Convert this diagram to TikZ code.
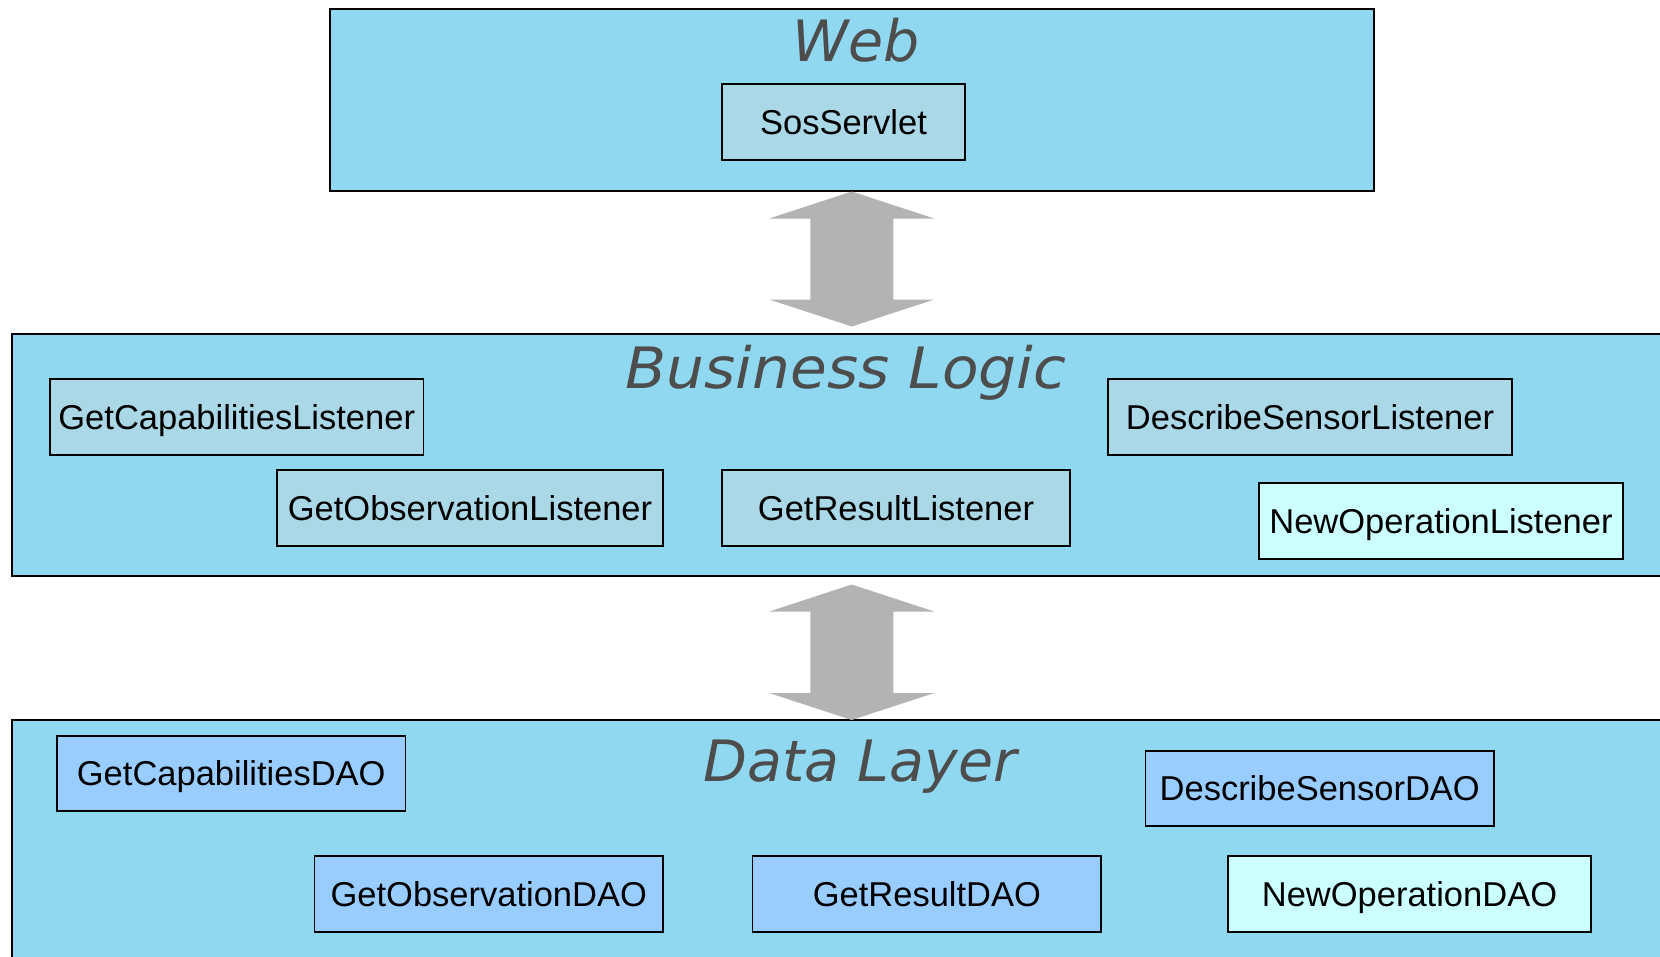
\documentclass[tikz,border=0pt]{standalone}
\usepackage{fontspec}
\setmainfont{Liberation Sans}
\newfontfamily\titlefont{DejaVu Sans}
\usetikzlibrary{calc}
\definecolor{layerfill}{RGB}{143,216,240}
\definecolor{lstfill}{RGB}{170,216,230}
\definecolor{daofill}{RGB}{153,204,255}
\definecolor{newfill}{RGB}{204,255,255}
\definecolor{arrowgray}{RGB}{179,179,179}
\definecolor{titlegray}{RGB}{77,77,77}
\tikzset{
  layer/.style={draw=black, line width=2pt, fill=layerfill, inner sep=0pt},
  lst/.style={draw=black, line width=1.5pt, fill=lstfill, inner sep=0pt, minimum height=76pt,
    text height=24.7pt, text depth=0pt,
    font=\fontsize{34.5}{40}\selectfont},
  dao/.style={lst, fill=daofill},
  newop/.style={lst, fill=newfill},
  ltitle/.style={anchor=base, text=titlegray, inner sep=0pt,
    font=\titlefont\itshape\fontsize{57}{60}\selectfont},
  blockarrow/.style={fill=arrowgray, draw=none}
}
\begin{document}
\begin{tikzpicture}[x=1pt,y=-1pt]
\clip (0,0) rectangle (1660,956);
\fill[white] (0,0) rectangle (1660,956);
% layers
\node[layer, minimum width=1044.5pt, minimum height=182pt] (web) at (851.75,99.5) {};
\node[layer, minimum width=1700pt, minimum height=242pt] (bl) at (861.6,455) {};
\node[layer, minimum width=1700pt, minimum height=300pt] (dl) at (861.6,870) {};
% titles
\node[ltitle] (webt) at (856,61) {Web};
\node[ltitle] (blt) at (846,388) {\scalebox{1.05}[1]{Business Logic}};
\node[ltitle] (dlt) at (860,781) {Data Layer};
% web
\node[lst, minimum width=243pt] (sos) at (843.5,122) {SosServlet};
% business logic
\node[lst, minimum width=373.5pt] (capL) at (236.75,417) {GetCapabilitiesListener};
\node[lst, minimum width=386pt] (obsL) at (470,508) {GetObservationListener};
\node[lst, minimum width=348pt] (resL) at (896,508) {GetResultListener};
\node[lst, minimum width=404pt] (descL) at (1310,417) {DescribeSensorListener};
\node[newop, minimum width=364pt] (newL) at (1441,521) {NewOperationListener};
% data layer
\node[dao, minimum width=348.5pt, minimum height=75pt] (capD) at (231.25,773.5) {GetCapabilitiesDAO};
\node[dao, minimum width=348.5pt, minimum height=75pt] (descD) at (1319.75,788.5) {DescribeSensorDAO};
\node[dao, minimum width=348.5pt] (obsD) at (488.75,894) {GetObservationDAO};
\node[dao, minimum width=348.5pt] (resD) at (926.9,894) {GetResultDAO};
\node[newop, minimum width=363pt] (newD) at (1409.5,894) {NewOperationDAO};
% arrows
\coordinate (a1t) at (web.south);
\coordinate (a1b) at ($(web.south)+(0,135)$);
\coordinate (a2t) at ($(web.south)+(0,393)$);
\coordinate (a2b) at ($(web.south)+(0,528.5)$);
\foreach \t/\b in {a1t/a1b, a2t/a2b}{
  \fill[blockarrow] (\t) -- ++(82.5,27) -- ++(-41,0) -- ($(\b)+(41.5,-27)$) -- ++(41,0)
    -- (\b) -- ++(-82.5,-27) -- ++(41,0) -- ($(\t)+(-41.5,27)$) -- ++(-41,0) -- cycle;
}
\end{tikzpicture}
\end{document}
